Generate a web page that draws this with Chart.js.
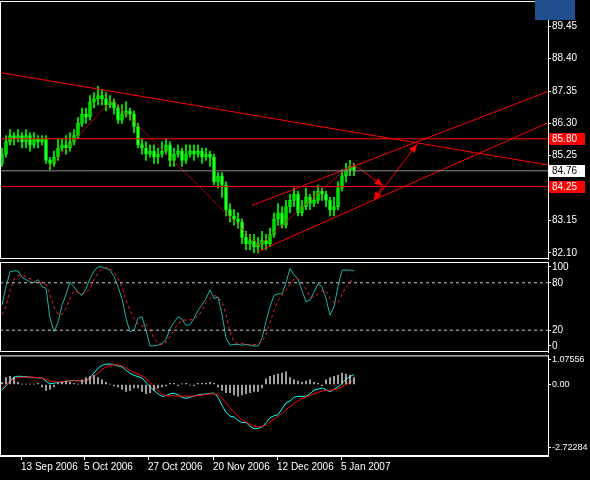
<!DOCTYPE html>
<html>
<head>
<meta charset="utf-8">
<script src="https://cdn.jsdelivr.net/npm/chart.js@4.4.1/dist/chart.umd.min.js"></script>
<style>
  body { margin: 0; background: #000; width: 590px; height: 480px; overflow: hidden; position: relative; }
  canvas { position: absolute; left: 0; }
  #badge { position: absolute; left: 535px; top: 0; width: 40px; height: 20px; background: #1f4f8f; }
</style>
</head>
<body>
<canvas id="main" style="top:-6px"></canvas>
<canvas id="stoch" style="top:255px"></canvas>
<canvas id="macd" style="top:349px"></canvas>
<div id="badge"></div>
<script>
// daily candles, Sep 2006 - Jan 2007
const opens = [85.0,85.3,85.7,85.9,85.8,85.9,85.7,85.9,85.6,85.8,85.7,85.8,85.1,85.0,85.2,85.5,85.6,85.5,85.7,85.9,86.3,86.6,
  86.5,87.0,87.1,87.2,87.1,86.9,87.0,86.8,86.4,86.6,86.7,86.6,86.2,85.6,85.5,85.3,85.4,85.2,85.3,85.4,85.6,85.1,85.3,85.4,85.1,
  85.3,85.4,85.3,85.4,85.2,85.3,85.2,84.4,84.6,84.3,83.5,83.3,83.2,83.1,82.6,82.4,82.5,82.3,82.4,82.5,82.4,82.7,83.2,83.4,83.0,
  83.6,83.8,84.0,83.4,83.6,83.9,83.7,83.8,84.1,84.0,83.8,83.5,83.6,84.2,84.6,84.8,84.9];
const highs = [85.5,85.9,86.1,86.0,86.1,86.0,86.1,86.0,86.0,85.9,85.9,85.9,85.2,85.4,85.8,85.8,85.9,86.0,86.1,86.5,86.8,86.8,
  87.2,87.3,87.5,87.4,87.3,87.2,87.1,86.9,86.9,87.0,86.8,86.7,86.3,85.8,85.7,85.6,85.6,85.5,85.7,85.8,85.7,85.5,85.6,85.5,85.6,
  85.6,85.6,85.6,85.5,85.5,85.4,85.3,84.7,84.7,84.4,83.7,83.5,83.4,83.2,82.8,82.7,82.7,82.6,82.8,82.7,82.9,83.4,83.7,83.6,83.8,
  84.0,84.2,84.1,83.8,84.2,84.0,84.1,84.3,84.2,84.1,83.9,83.9,84.4,84.8,85.0,85.1,85.0];
const lows = [84.9,85.2,85.6,85.6,85.7,85.5,85.5,85.4,85.5,85.5,85.6,85.0,84.8,84.9,85.1,85.4,85.3,85.4,85.6,85.8,86.2,86.3,
  86.4,86.8,86.9,86.9,86.7,86.8,86.6,86.3,86.3,86.5,86.4,86.0,85.5,85.3,85.1,85.2,85.0,85.0,85.2,85.3,84.9,84.9,85.2,84.9,85.0,
  85.2,85.1,85.2,85.0,85.1,84.9,84.3,84.2,83.9,83.3,83.1,83.0,82.9,82.4,82.2,82.2,82.1,82.1,82.2,82.2,82.3,82.6,83.0,82.9,82.9,
  83.4,83.6,83.3,83.3,83.5,83.5,83.6,83.7,83.8,83.6,83.3,83.3,83.5,84.1,84.4,84.6,84.6];
const closes = [85.3,85.7,85.9,85.8,85.9,85.7,85.9,85.6,85.8,85.7,85.8,85.1,85.0,85.2,85.5,85.6,85.5,85.7,85.9,86.3,86.6,86.5,
  87.0,87.1,87.2,87.1,86.9,87.0,86.8,86.4,86.6,86.7,86.6,86.2,85.6,85.5,85.3,85.4,85.2,85.3,85.4,85.6,85.1,85.3,85.4,85.1,85.3,
  85.4,85.3,85.4,85.2,85.3,85.2,84.4,84.6,84.3,83.5,83.3,83.2,83.1,82.6,82.4,82.5,82.3,82.4,82.5,82.4,82.7,83.2,83.4,83.0,83.6,
  83.8,84.0,83.4,83.6,83.9,83.7,83.8,84.1,84.0,83.8,83.5,83.6,84.2,84.6,84.8,84.9,84.76];

// stochastic %K / %D
const stochK = [52,75,94,95,95,87,84,81,80,84,75,73,35,18,30,52,65,81,75,68,64,73,85,95,100,100,98,96,88,75,60,35,18,20,35,37,
  20,0,0,1,3,8,22,30,37,34,26,27,35,45,52,60,71,60,62,40,10,1,2,2,1,2,1,0,0,10,31,50,64,66,66,80,98,90,85,70,56,58,68,79,75,60,
  39,50,75,96,96,96,95];
const stochD = [40,50,70,85,89,89,88,85,82,80,80,78,65,50,40,40,48,60,70,68,66,68,72,85,92,97,99,98,94,85,75,58,45,35,28,25,
  28,20,10,3,2,5,12,20,28,32,33,33,34,38,45,55,60,64,62,55,40,18,5,3,3,2,2,2,2,5,15,30,45,58,64,70,78,85,85,80,72,62,62,66,70,
  70,60,55,55,65,75,80,88];

// MACD main / signal / histogram
const macdMain = [-0.24,-0.05,0.15,0.33,0.36,0.35,0.34,0.32,0.30,0.29,0.29,0.15,0.03,0.06,0.09,0.11,0.14,0.16,0.18,0.16,0.16,
  0.16,0.30,0.50,0.70,0.83,0.88,0.89,0.86,0.81,0.76,0.62,0.49,0.40,0.34,0.29,0.10,-0.10,-0.25,-0.40,-0.51,-0.48,-0.40,-0.37,
  -0.45,-0.55,-0.60,-0.55,-0.50,-0.45,-0.42,-0.41,-0.38,-0.37,-0.55,-0.9,-1.2,-1.37,-1.40,-1.55,-1.64,-1.64,-1.80,-1.91,-1.90,
  -1.84,-1.65,-1.44,-1.35,-1.31,-1.05,-0.80,-0.71,-0.55,-0.51,-0.51,-0.51,-0.40,-0.24,-0.20,-0.15,-0.22,-0.31,-0.20,-0.11,0.05,
  0.23,0.35,0.43];
const macdSignal = [-0.15,0,0.15,0.25,0.30,0.32,0.32,0.32,0.31,0.30,0.28,0.22,0.15,0.12,0.11,0.12,0.13,0.15,0.16,0.16,0.17,
  0.18,0.22,0.35,0.5,0.65,0.76,0.83,0.86,0.85,0.8,0.72,0.62,0.52,0.45,0.38,0.25,0.1,-0.1,-0.28,-0.42,-0.48,-0.49,-0.49,-0.5,
  -0.5,-0.5,-0.5,-0.5,-0.48,-0.45,-0.43,-0.40,-0.40,-0.45,-0.6,-0.8,-1.0,-1.2,-1.38,-1.52,-1.62,-1.72,-1.80,-1.84,-1.82,-1.74,
  -1.62,-1.5,-1.38,-1.24,-1.1,-0.96,-0.82,-0.7,-0.6,-0.54,-0.48,-0.4,-0.34,-0.28,-0.25,-0.24,-0.22,-0.18,-0.1,0.0,0.1,0.2];
const macdHist = [0.1,0.3,0.35,0.3,0.1,0.02,0.02,0.02,0.02,0.05,-0.1,-0.25,-0.2,-0.1,0.05,0.1,0.15,0.1,0.05,0.02,0.2,0.3,0.35,
  0.4,0.3,0.2,0.1,0.02,-0.05,-0.1,-0.2,-0.3,-0.25,-0.15,-0.15,-0.3,-0.4,-0.35,-0.25,-0.15,-0.1,-0.05,0.05,0.05,-0.05,0.03,0.05,
  -0.03,-0.05,0.05,0.05,0.06,0.1,0.05,-0.1,-0.25,-0.35,-0.35,-0.45,-0.5,-0.45,-0.4,-0.35,-0.3,-0.3,-0.15,0.25,0.35,0.4,0.45,0.5,
  0.55,0.3,0.2,0.15,0.1,0.15,0.2,0.1,0.05,-0.05,0.2,0.3,0.35,0.4,0.5,0.45,0.4,0.3];

const priceTicks = [82.10, 83.15, 85.25, 86.30, 87.35, 88.40, 89.45];
const dateTickIdx = [4.75, 20.5, 36.5, 52.75, 68.75, 84.75];
const dateTickLabels = ['13 Sep 2006', '5 Oct 2006', '27 Oct 2006', '20 Nov 2006', '12 Dec 2006', '5 Jan 2007'];

// drawn objects: [barIndex, price]
const longTrend = [[-0.5, 87.95], [137, 84.94]];
const zigzag = [[11.75, 84.88], [27.5, 87.07], [64.2, 82.33], [87.5, 85.0]];
const projection = [[87.5, 85.0], [95.25, 84.28], [93, 83.8], [103.75, 85.62]];
const channelUpper = [[62.5, 83.64], [137, 87.36]];
const channelLower = [[63.75, 82.13], [137, 86.35]];
const levelsRed = [85.80, 84.25];
const lastPrice = 84.76;

const FONT = { family: 'Liberation Sans', size: 10 };
const X_MIN = -0.5, X_MAX = 136.5;
const idx = closes.map((_, i) => i);

function xScale(showTicks) {
  return {
    type: 'linear', min: X_MIN, max: X_MAX, display: showTicks, offset: false,
    grid: { drawOnChartArea: false, color: '#fff', tickLength: 4, offset: false },
    border: { color: '#fff' },
    afterBuildTicks: s => { s.ticks = dateTickIdx.map(v => ({ value: v })); },
    ticks: { color: '#fff', font: FONT, align: 'start', maxRotation: 0, autoSkip: false, padding: 1,
      callback: (v) => dateTickLabels[dateTickIdx.indexOf(v)] }
  };
}
function yScale(min, max, tickVals, fmt, size) {
  return {
    position: 'right', min, max,
    grid: { drawOnChartArea: false, color: '#fff', tickLength: 3 },
    border: { color: '#fff' },
    afterBuildTicks: s => { s.ticks = tickVals.map(v => ({ value: v })); },
    afterFit: s => { s.width = 42; },
    ticks: { color: '#fff', font: { family: 'Liberation Sans', size: size || 10 }, padding: 1, callback: fmt }
  };
}
const frame = {
  id: 'frame',
  afterDraw(chart) {
    const { ctx, chartArea: a } = chart;
    ctx.save();
    ctx.strokeStyle = '#fff';
    ctx.lineWidth = 1;
    ctx.strokeRect(0.5, a.top + 0.5, a.right, a.bottom - a.top - 1);
    ctx.restore();
  }
};
const base = { animation: false, responsive: false, events: [],
  plugins: { legend: { display: false }, tooltip: { enabled: false } },
  layout: { padding: 0 } };

function seg(points, color, width, dash) {
  return { type: 'line', data: points.map(p => ({ x: p[0], y: p[1] })), borderColor: color, borderWidth: width,
    borderDash: dash || [], pointRadius: 0, tension: 0 };
}
function hline(y, color, dash) { return seg([[X_MIN, y], [X_MAX, y]], color, 1, dash); }

// ---- main price panel
const mainCv = document.getElementById('main');
mainCv.width = 590; mainCv.height = 272;
const bull = closes.map((c, i) => c >= opens[i]);

const arrowHeads = {
  id: 'arrows',
  afterDatasetsDraw(chart) {
    const { ctx, scales: { x, y } } = chart;
    ctx.save();
    ctx.fillStyle = '#ff0000';
    for (let i = 1; i < projection.length; i++) {
      const x0 = x.getPixelForValue(projection[i - 1][0]), y0 = y.getPixelForValue(projection[i - 1][1]);
      const x1 = x.getPixelForValue(projection[i][0]), y1 = y.getPixelForValue(projection[i][1]);
      const ang = Math.atan2(y1 - y0, x1 - x0);
      ctx.beginPath();
      ctx.moveTo(x1, y1);
      ctx.lineTo(x1 - 9 * Math.cos(ang - 0.4), y1 - 9 * Math.sin(ang - 0.4));
      ctx.lineTo(x1 - 9 * Math.cos(ang + 0.4), y1 - 9 * Math.sin(ang + 0.4));
      ctx.fill();
    }
    ctx.restore();
  },
  afterDraw(chart) {
    const { ctx, scales: { y }, chartArea: a } = chart;
    ctx.save();
    ctx.font = '10px "Liberation Sans"';
    ctx.textBaseline = 'middle';
    const boxes = [[levelsRed[0], '#ff0000', '#fff'], [lastPrice, '#fff', '#000'], [levelsRed[1], '#ff0000', '#fff']];
    boxes.forEach(([v, bg, fg]) => {
      const py = Math.round(y.getPixelForValue(v));
      ctx.fillStyle = bg;
      ctx.fillRect(a.right + 1, py - 6, 36, 12);
      ctx.fillStyle = fg;
      ctx.fillText(v.toFixed(2), a.right + 4, py);
    });
    ctx.restore();
  }
};

new Chart(mainCv, {
  type: 'bar',
  data: { datasets: [
    hline(levelsRed[0], '#ff0000'), hline(lastPrice, '#8c8c8c'), hline(levelsRed[1], '#ff0000'),
    seg(longTrend, '#ff0000', 1), seg(channelUpper, '#ff0000', 1), seg(channelLower, '#ff0000', 1),
    seg(zigzag, '#ff0000', 1, [2, 1]), seg(projection, '#ff0000', 1),
    { type: 'bar', data: idx.map(i => ({ x: i, y: [lows[i], highs[i]] })), backgroundColor: '#00ff00',
      barThickness: 1, grouped: false },
    { type: 'bar', data: idx.map(i => ({ x: i, y: [opens[i], closes[i] === opens[i] ? closes[i] + 0.02 : closes[i]] })),
      backgroundColor: bull.map(b => b ? '#000' : '#fff'), borderColor: '#00ff00', borderWidth: 1,
      borderSkipped: false, barThickness: 3, grouped: false }
  ] },
  options: { ...base,
    scales: { x: xScale(false), y: yScale(81.90, 90.27, priceTicks, v => v.toFixed(2)) } },
  plugins: [frame, arrowHeads]
});

// ---- stochastic panel
const stCv = document.getElementById('stoch');
stCv.width = 590; stCv.height = 104;
new Chart(stCv, {
  type: 'line',
  data: { datasets: [
    hline(80, '#c8c8c8', [3, 3]), hline(20, '#c8c8c8', [3, 3]),
    { data: idx.map(i => ({ x: i, y: stochD[i] })), borderColor: '#ff2020', borderWidth: 1, borderDash: [3, 3], pointRadius: 0 },
    { data: idx.map(i => ({ x: i, y: stochK[i] })), borderColor: '#20b2aa', borderWidth: 1, pointRadius: 0 }
  ] },
  options: { ...base,
    scales: { x: xScale(false), y: yScale(-7.6, 106.3, [0, 20, 80, 100], v => String(v)) } },
  plugins: [frame]
});

// ---- MACD panel with date axis
const mcCv = document.getElementById('macd');
mcCv.width = 590; mcCv.height = 125;
new Chart(mcCv, {
  type: 'bar',
  data: { datasets: [
    { type: 'bar', data: idx.map(i => ({ x: i, y: macdHist[i] })), backgroundColor: '#c0c0c0', barThickness: 1, grouped: false },
    { type: 'line', data: idx.map(i => ({ x: i, y: macdSignal[i] })), borderColor: '#ff0000', borderWidth: 1, pointRadius: 0 },
    { type: 'line', data: idx.map(i => ({ x: i, y: macdMain[i] })), borderColor: '#00ffff', borderWidth: 1, pointRadius: 0 }
  ] },
  options: { ...base,
    scales: { x: xScale(true), y: yScale(-3.09, 1.26, [-2.72284, 0, 1.07556],
      v => v === 0 ? '0.00' : String(v), 9) } },
  plugins: [frame]
});
</script>
</body>
</html>
